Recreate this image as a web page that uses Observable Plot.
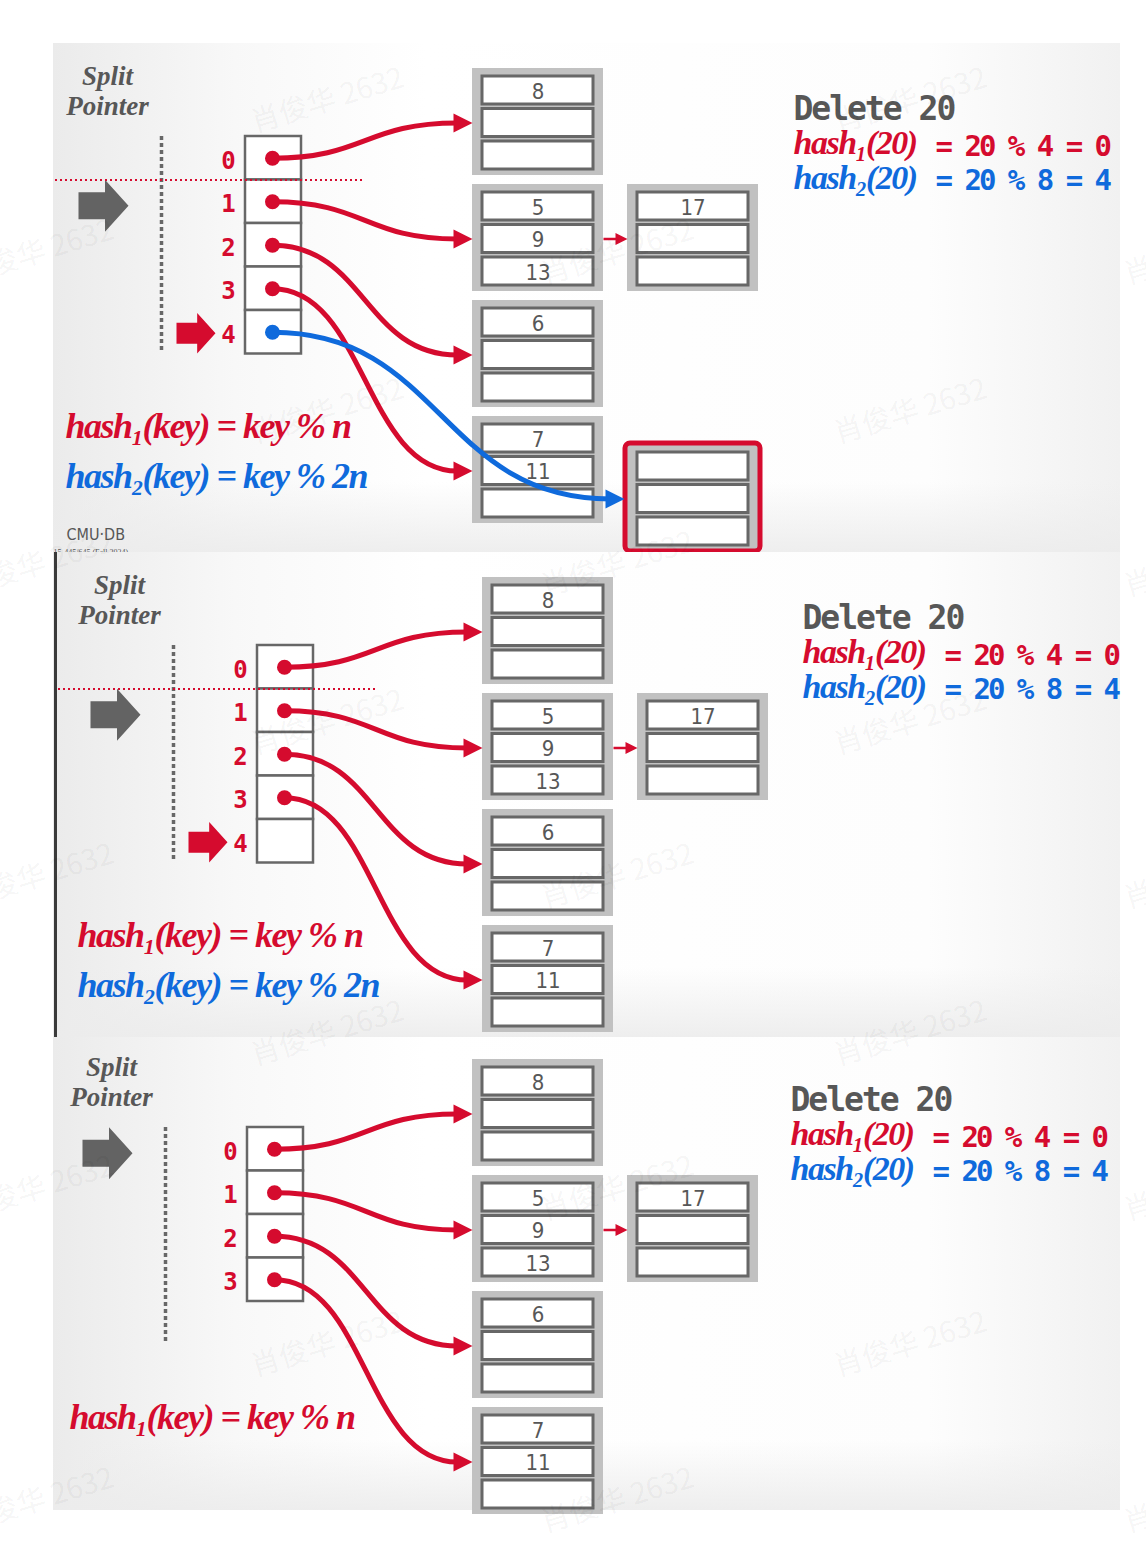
<!DOCTYPE html>
<html>
<head>
<meta charset="utf-8">
<script src="https://cdn.jsdelivr.net/npm/d3@7"></script>
<script src="https://cdn.jsdelivr.net/npm/@observablehq/plot@0.6"></script>
<style>
  body { margin: 0; background: #fff; }
  g[font-family="DejaVu Sans Mono, monospace"] { letter-spacing: -3px; }
  g[font-family="DejaVu Sans Mono, mono"] { letter-spacing: -2px; }
  g[font-family="Liberation Serif, serif"] { letter-spacing: -1.5px; }
</style>
</head>
<body>
<div id="chart"></div>
<script>
// ---------------- data ----------------
const bucketKeys = [["8", "", ""], ["5", "9", "13"], ["6", "", ""], ["7", "11", ""]];
const overflowKeys = ["17", "", ""];
const overflowOf = 1;                       // bucket that owns the overflow page
const newBucketKeys = ["", "", ""];
const dirLabels = ["0", "1", "2", "3", "4"];
const dirRowsPerPanel = [5, 5, 4];
const redPointers = [[0, 1, 2, 3], [0, 1, 2, 3], [0, 1, 2, 3]]; // directory row i -> bucket i
const bluePointerRow = [4, null, null];
const splitRow = [1, 1, 0];
const nextRowArrow = [4, 4, null];
const showBoundary = [true, true, false];
const deleteLabel = "Delete 20";
const hashNames = ["hash\u2081(20)", "hash\u2082(20)"];
const hashCalcs = ["= 20 % 4 = 0", "= 20 % 8 = 4"];
const ruleTexts = ["hash\u2081(key) = key % n", "hash\u2082(key) = key % 2n"];
const rulesPerPanel = [2, 2, 1];
const splitWords = ["Split", "Pointer"];
const footerTexts = ["CMU\u00b7DB", "15-445/645 (Fall 2024)"];
const watermark = "肖俊华 2632";

// ---------------- styles ----------------
const RED = "#d50b2e", BLUE = "#0f6adc", INK = "#575757", BOX = "#c1c1c1", EDGE = "#676767";
const hashColor = [RED, BLUE];
const NARROW = "'Liberation Sans Narrow', 'DejaVu Sans Condensed', Roboto, sans-serif";

// ---------------- layout (panel-1 geometry + per-panel shifts) ----------------
const W = 1146, H = 1550;
const FRAME_X = [53, 1120];
const FRAMES = [[43, 552], [552, 1037], [1037, 1510]];
const DY = [0, 509, 991];
const SHIFT = [
  { L: 0, D: 0, B: 0, R: 0 },
  { L: 12, D: 12, B: 10, R: 9 },
  { L: 4, D: 2, B: 0, R: -3 }
];
const B = { x0: 472, x1: 603, y0: 68, pitch: 116, h: 107, inset: 10, top: 8, sp: 32.5, sh: 28, ox0: 627, ox1: 758 };
const NB = { x0: 625, x1: 760, y0: 443, y1: 551, inset: 12, top: 9 };
const D = { x0: 245, x1: 301, y0: 136, rh: 43.5, dotX: 272, labelX: 228, ruleX: 161, ruleY0: 136, ruleY1: 353 };

// ---------------- symbols ----------------
const headSym = { draw(ctx, size) { const s = Math.sqrt(size / Math.PI);
  ctx.moveTo(0, 0); ctx.lineTo(-s, -0.5 * s); ctx.lineTo(-s, 0.5 * s); ctx.closePath(); } };
const blockSym = { draw(ctx, size) { const s = Math.sqrt(size / Math.PI);
  const hx = -0.47 * s, hh = 0.52 * s, bh = 0.27 * s;
  ctx.moveTo(0, 0); ctx.lineTo(hx, -hh); ctx.lineTo(hx, -bh); ctx.lineTo(-s, -bh);
  ctx.lineTo(-s, bh); ctx.lineTo(hx, bh); ctx.lineTo(hx, hh); ctx.closePath(); } };

const marks = [];
const R = (data, o) => marks.push(Plot.rect(data, { x1: "x1", x2: "x2", y1: "y1", y2: "y2", ...o }));
const T = (data, o) => marks.push(Plot.text(data, { x: "x", y: "y", text: "t", ...o }));
const DOT = (data, o) => marks.push(Plot.dot(data, { x: "x", y: "y", stroke: "none", ...o }));
const LINK = (data, o) => marks.push(Plot.link(data, { x1: "x1", y1: "y1", x2: "x2", y2: "y2", ...o }));

FRAMES.forEach(([top, bottom], pi) => {
  const dy = DY[pi], sh = SHIFT[pi];
  // background
  R([{ x1: FRAME_X[0], x2: FRAME_X[1], y1: top, y2: bottom }], { fill: "url(#bgH)" });
  R([{ x1: FRAME_X[0], x2: FRAME_X[1], y1: bottom - 70, y2: bottom }], { fill: "url(#bgV)" });
  if (pi === 1) marks.push(Plot.ruleX([{ x: FRAME_X[0] + 2, y1: top, y2: bottom }],
    { x: "x", y1: "y1", y2: "y2", stroke: "#3a3a3a", strokeWidth: 3 }));
  if (pi < 2) {
    T([{ x: FRAME_X[0] + 13, y: bottom - 18 + (pi ? 26 : 0), t: footerTexts[0] }],
      { textAnchor: "start", fontFamily: NARROW, fontSize: 16, fill: INK });
    T([{ x: FRAME_X[0], y: bottom + 2 + (pi ? 26 : 0), t: footerTexts[1] }],
      { textAnchor: "start", lineAnchor: "bottom", fontFamily: "Liberation Serif", fontSize: 8, fill: INK });
  }

  // buckets
  const bTop = k => B.y0 + dy + k * B.pitch;
  const outers = bucketKeys.map((_, k) => ({ x1: B.x0 + sh.B, x2: B.x1 + sh.B, y1: bTop(k), y2: bTop(k) + B.h }));
  outers.push({ x1: B.ox0 + sh.B, x2: B.ox1 + sh.B, y1: bTop(overflowOf), y2: bTop(overflowOf) + B.h });
  R(outers, { fill: BOX });
  const slots = [];
  bucketKeys.forEach((keys, k) => keys.forEach((t, j) => slots.push({
    x1: B.x0 + sh.B + B.inset, x2: B.x1 + sh.B - B.inset,
    y1: bTop(k) + B.top + j * B.sp, y2: bTop(k) + B.top + j * B.sp + B.sh, t })));
  overflowKeys.forEach((t, j) => slots.push({
    x1: B.ox0 + sh.B + B.inset, x2: B.ox1 + sh.B - B.inset,
    y1: bTop(overflowOf) + B.top + j * B.sp, y2: bTop(overflowOf) + B.top + j * B.sp + B.sh, t }));
  const midY = k => bTop(k) + B.top + B.sp + B.sh / 2;

  // new (split image) bucket
  if (bluePointerRow[pi] != null) {
    R([{ x1: NB.x0 + sh.B, x2: NB.x1 + sh.B, y1: NB.y0 + dy, y2: NB.y1 + dy }],
      { fill: BOX, stroke: RED, strokeWidth: 5, rx: 5 });
    newBucketKeys.forEach((t, j) => slots.push({
      x1: NB.x0 + sh.B + NB.inset, x2: NB.x1 + sh.B - NB.inset,
      y1: NB.y0 + dy + NB.top + j * B.sp, y2: NB.y0 + dy + NB.top + j * B.sp + B.sh, t }));
  }
  R(slots, { fill: "white", stroke: EDGE, strokeWidth: 3 });
  T(slots.filter(s => s.t).map(s => ({ x: (s.x1 + s.x2) / 2, y: (s.y1 + s.y2) / 2 + 1, t: s.t })),
    { fontFamily: NARROW, fontSize: 22, fill: INK });

  // overflow chain arrow
  LINK([{ x1: B.x1 + sh.B, x2: B.ox0 + sh.B - 9, y1: midY(overflowOf), y2: midY(overflowOf) }],
    { stroke: RED, strokeWidth: 2.5 });
  DOT([{ x: B.ox0 + sh.B, y: midY(overflowOf) }], { symbol: headSym, r: 12, fill: RED });

  // directory
  const rows = dirRowsPerPanel[pi];
  const rowC = i => D.y0 + dy + D.rh * (i + 0.5);
  R(d3.range(rows).map(i => ({ x1: D.x0 + sh.D, x2: D.x1 + sh.D, y1: D.y0 + dy + i * D.rh, y2: D.y0 + dy + (i + 1) * D.rh })),
    { fill: "white", stroke: EDGE, strokeWidth: 2.5 });
  T(dirLabels.slice(0, rows).map((t, i) => ({ x: D.labelX + sh.D, y: rowC(i) + 3, t })),
    { fontFamily: "DejaVu Sans Mono", fontWeight: "bold", fontSize: 24, fill: RED });

  // pointers
  const red = redPointers[pi].map(i => ({ x1: D.dotX + sh.D, y1: rowC(i), x2: B.x0 + sh.B - 15, y2: midY(i), tip: B.x0 + sh.B }));
  LINK(red, { curve: "bump-x", stroke: RED, strokeWidth: 5 });
  DOT(red.map(d => ({ x: d.tip, y: d.y2 })), { symbol: headSym, r: 19, fill: RED });
  DOT(red.map(d => ({ x: d.x1, y: d.y1 })), { r: 7.5, fill: RED });
  if (bluePointerRow[pi] != null) {
    const yb = NB.y0 + dy + NB.top + B.sp + B.sh / 2;
    const blue = [{ x1: D.dotX + sh.D, y1: rowC(bluePointerRow[pi]), x2: NB.x0 + sh.B - 15, y2: yb, tip: NB.x0 + sh.B - 1 }];
    LINK(blue, { curve: "bump-x", stroke: BLUE, strokeWidth: 5 });
    DOT(blue.map(d => ({ x: d.tip, y: d.y2 })), { symbol: headSym, r: 19, fill: BLUE });
    DOT(blue.map(d => ({ x: d.x1, y: d.y1 })), { r: 7.5, fill: BLUE });
  }

  // split pointer
  T(splitWords.map((t, i) => ({ x: 107 + sh.L, y: 84 + dy + i * 30, t })),
    { lineAnchor: "bottom", fontFamily: "Liberation Serif", fontWeight: "bold", fontStyle: "italic", fontSize: 27, fill: INK });
  marks.push(Plot.ruleX([{ x: D.ruleX + sh.L, y1: D.ruleY0 + dy, y2: D.ruleY1 + dy }],
    { x: "x", y1: "y1", y2: "y2", stroke: EDGE, strokeWidth: 3.5, strokeDasharray: "4,3" }));
  DOT([{ x: 128 + sh.L, y: rowC(splitRow[pi]) + 4 }], { symbol: blockSym, r: 50, fill: "#636363" });
  if (showBoundary[pi]) marks.push(Plot.ruleY([{ y: D.y0 + dy + D.rh, x1: FRAME_X[0] + 2 + sh.L / 4, x2: 363 + sh.L }],
    { y: "y", x1: "x1", x2: "x2", stroke: RED, strokeWidth: 2, strokeDasharray: "2,3" }));
  if (nextRowArrow[pi] != null)
    DOT([{ x: 215 + sh.D, y: rowC(nextRowArrow[pi]) + 1 }], { symbol: blockSym, r: 39, fill: RED });

  // hash rules (left)
  ruleTexts.slice(0, rulesPerPanel[pi]).forEach((t, i) =>
    T([{ x: 65 + sh.L, y: 437 + dy + i * 50, t }],
      { textAnchor: "start", lineAnchor: "bottom", fontFamily: "Liberation Serif, serif", fontWeight: "bold", fontStyle: "italic", fontSize: 36, fill: hashColor[i] }));

  // right-hand text
  T([{ x: 793 + sh.R, y: 119 + dy, t: deleteLabel }],
    { textAnchor: "start", lineAnchor: "bottom", fontFamily: "DejaVu Sans Mono, mono", fontWeight: "bold", fontSize: 33, fill: INK });
  hashNames.forEach((t, i) => {
    T([{ x: 793 + sh.R, y: 153 + dy + i * 35, t }],
      { textAnchor: "start", lineAnchor: "bottom", fontFamily: "Liberation Serif, serif", fontWeight: "bold", fontStyle: "italic", fontSize: 34, fill: hashColor[i] });
    T([{ x: 935 + sh.R, y: 155 + dy + i * 34, t: hashCalcs[i] }],
      { textAnchor: "start", lineAnchor: "bottom", fontFamily: "DejaVu Sans Mono, monospace", fontWeight: "bold", fontSize: 29, fill: hashColor[i] });
  });
});

// watermarks
const wm = [];
d3.range(5).forEach(r => {
  [327, 910].forEach(x => wm.push({ x, y: 100 + r * 311, t: watermark }));
  [37, 617, 1200].forEach(x => wm.push({ x, y: 252 + r * 312, t: watermark }));
});
T(wm, { fontFamily: "'Noto Sans CJK SC', sans-serif", fontSize: 29, rotate: -17, fill: "#000", fillOpacity: 0.055 });

const svg = Plot.plot({
  width: W, height: H, margin: 0,
  x: { domain: [0, W], range: [0, W], axis: null },
  y: { domain: [0, H], range: [0, H], axis: null },
  style: { background: "#fff", overflow: "hidden" },
  marks
});
const defs = document.createElementNS("http://www.w3.org/2000/svg", "defs");
defs.innerHTML = `
<linearGradient id="bgH" x1="0" x2="1" y1="0" y2="0">
  <stop offset="0" stop-color="#ebebeb"/><stop offset="0.17" stop-color="#f8f8f8"/>
  <stop offset="0.35" stop-color="#ffffff"/><stop offset="0.82" stop-color="#fdfdfd"/>
  <stop offset="1" stop-color="#f1f1f1"/>
</linearGradient>
<linearGradient id="bgV" x1="0" x2="0" y1="0" y2="1">
  <stop offset="0" stop-color="#ececec" stop-opacity="0"/><stop offset="1" stop-color="#ececec" stop-opacity="0.9"/>
</linearGradient>`;
svg.insertBefore(defs, svg.firstChild);
document.getElementById("chart").appendChild(svg);
</script>
</body>
</html>
